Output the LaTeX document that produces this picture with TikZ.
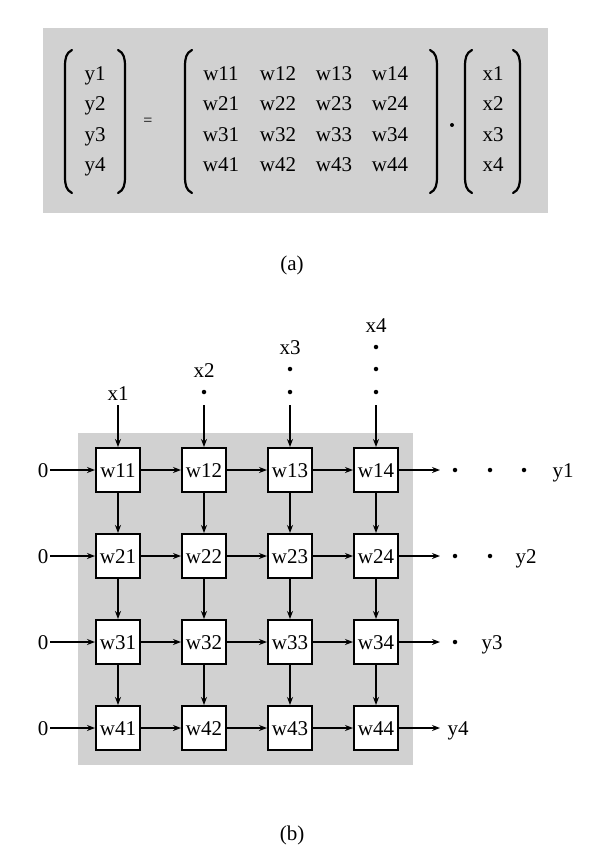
\documentclass[tikz,border=0pt]{standalone}
\usepackage{fontspec}
\setmainfont{Liberation Serif}
\usetikzlibrary{arrows.meta}
\begin{document}
\begin{tikzpicture}[x=1pt,y=-1pt,
  lbl/.style={font=\fontsize{21}{25}\selectfont, inner sep=0pt, text height=14pt, text depth=0pt},
  cell/.style={draw, fill=white, line width=2pt, minimum width=44pt, minimum height=44pt, inner sep=0pt,
    font=\fontsize{21}{25}\selectfont, text height=14pt, text depth=0pt},
  arr/.style={line width=2pt, -{Stealth[length=8pt,width=6pt]}},
  dotn/.style={circle, fill=black, inner sep=0pt, minimum size=4.5pt},
  paren/.style={line width=2.2pt, line cap=round},
  shade/.style={fill=black!18}]
\useasboundingbox (0,0) rectangle (600,864);

% ---------- (a) ----------
\fill[shade] (43,28) rectangle (548,213);
% parentheses
\foreach \px in {65,185,465}{
  \draw[paren] ({\px+7},50) .. controls ({\px+1},53) and (\px,58) .. (\px,67) -- (\px,176)
     .. controls (\px,185) and ({\px+1},190) .. ({\px+7},193);
}
\foreach \px in {125,437,520}{
  \draw[paren] ({\px-7},50) .. controls ({\px-1},53) and (\px,58) .. (\px,67) -- (\px,176)
     .. controls (\px,185) and ({\px-1},190) .. ({\px-7},193);
}
\foreach \i/\ry in {1/74,2/104,3/134,4/164}{
  \node[lbl] (ya\i) at (95,\ry) {y\i};
  \node[lbl] (xa\i) at (493,\ry) {x\i};
  \foreach \j/\cx in {1/221,2/278,3/334,4/390}{
    \node[lbl] (wa\i\j) at (\cx,\ry) {w\i\j};
  }
}
\node[font=\fontsize{16}{18}\selectfont, inner sep=0pt] (eq) at (148,122) {=};
\node[dotn, minimum size=4pt] (mul) at (452,125) {};
\node[lbl] (capa) at (292,263) {(a)};

% ---------- (b) ----------
\fill[shade] (78,433) rectangle (413,765);
\foreach \i/\ry in {1/470,2/556,3/642,4/728}{
  \foreach \j/\cx in {1/118,2/204,3/290,4/376}{
    \node[cell] (w\i\j) at (\cx,\ry) {w\i\j};
  }
  \node[lbl] (z\i) at (43,\ry) {0};
  \draw[arr] (z\i.east) ++(2,0) -- (w\i1.west);
  \coordinate (o\i) at (440,\ry);
  \draw[arr] (w\i4.east) -- (o\i);
}
% horizontal and vertical links
\foreach \i in {1,2,3,4}{
  \draw[arr] (w\i1) -- (w\i2);
  \draw[arr] (w\i2) -- (w\i3);
  \draw[arr] (w\i3) -- (w\i4);
}
\foreach \j in {1,2,3,4}{
  \draw[arr] (w1\j) -- (w2\j);
  \draw[arr] (w2\j) -- (w3\j);
  \draw[arr] (w3\j) -- (w4\j);
}
% inputs
\node[lbl] (x1) at (118,393) {x1};
\node[lbl] (x2) at (204,370) {x2};
\node[lbl] (x3) at (290,347) {x3};
\node[lbl] (x4) at (376,325) {x4};
\node[dotn] (d21) at (204,392) {};
\node[dotn] (d31) at (290,369) {};
\node[dotn] (d32) at (290,392) {};
\node[dotn] (d41) at (376,347) {};
\node[dotn] (d42) at (376,369) {};
\node[dotn] (d43) at (376,392) {};
\foreach \j/\cx in {1/118,2/204,3/290,4/376}{
  \coordinate (in\j) at (\cx,405);
  \draw[arr] (in\j) -- (w1\j.north);
}
% outputs
\node[dotn] (e11) at (455,470) {};
\node[dotn] (e12) at (490,470) {};
\node[dotn] (e13) at (524,470) {};
\node[lbl] (y1) at (563,470) {y1};
\node[dotn] (e21) at (455,556) {};
\node[dotn] (e22) at (490,556) {};
\node[lbl] (y2) at (526,556) {y2};
\node[dotn] (e31) at (455,642) {};
\node[lbl] (y3) at (492,642) {y3};
\node[lbl] (y4) at (458,728) {y4};

\node[lbl] (capb) at (292,833) {(b)};
\end{tikzpicture}
\end{document}
